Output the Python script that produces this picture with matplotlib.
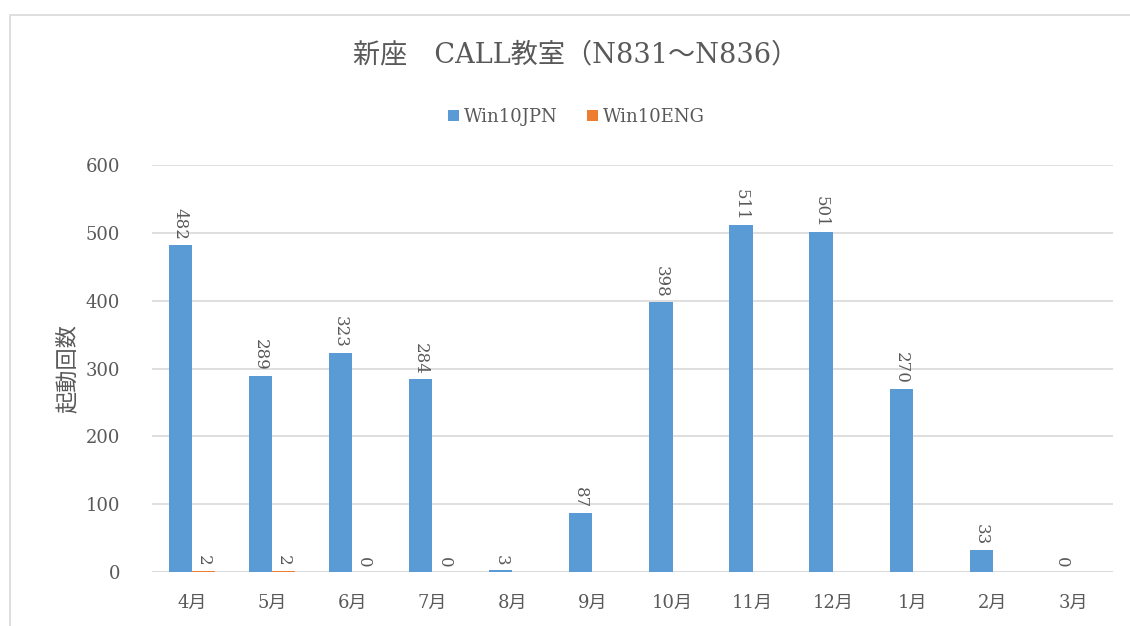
import matplotlib.pyplot as plt
import numpy as np
from matplotlib.patches import Rectangle

plt.rcParams['font.family'] = ['DejaVu Serif', 'Noto Sans CJK JP', 'DejaVu Sans']

months = ['4月', '5月', '6月', '7月', '8月', '9月', '10月', '11月', '12月', '1月', '2月', '3月']
jpn = [482, 289, 323, 284, 3, 87, 398, 511, 501, 270, 33, 0]
eng = [2, 2, 0, 0, None, None, None, None, None, None, None, None]
yticks = [0, 100, 200, 300, 400, 500, 600]

c_jpn = '#5b9bd5'
c_eng = '#ed7d31'
txt = '#595959'

fig = plt.figure(figsize=(11.3, 6.26), dpi=100)
ax = fig.add_axes([152 / 1130, 1 - 572 / 626, (1113 - 152) / 1130, (572 - 165) / 626])

# chart border
fig.patches.append(Rectangle((10 / 1130, -0.1), 1.2, 1 - 15 / 626 + 0.1,
                             transform=fig.transFigure, fill=False,
                             edgecolor='#d9d9d9', linewidth=1.2))

x = np.arange(len(months))
w = 0.29
eng_vals = [v if v is not None else 0 for v in eng]
b1 = ax.bar(x - w / 2, jpn, w, color=c_jpn, label='Win10JPN', zorder=3)
b2 = ax.bar(x + w / 2, eng_vals, w, color=c_eng, label='Win10ENG', zorder=3)

for xi, v in zip(x, jpn):
    ax.text(xi - w / 2, v + 7, str(v), rotation=-90, ha='center', va='bottom',
            fontsize=12, color=txt)
for xi, v in zip(x, eng):
    if v is None:
        continue
    ax.text(xi + w / 2, v + 7, str(v), rotation=-90, ha='center', va='bottom',
            fontsize=12, color=txt)

ax.set_xlim(-0.5, len(months) - 0.5)
ax.set_ylim(0, 600)
ax.set_yticks(yticks)
ax.set_xticks(x)
ax.set_xticklabels(months)
ax.tick_params(axis='both', length=0, labelsize=13, colors=txt)
ax.tick_params(axis='x', pad=16)
ax.tick_params(axis='y', pad=23)
ax.grid(axis='y', color='#d9d9d9', linewidth=1.2, zorder=0)
for s in ax.spines.values():
    s.set_visible(False)
ax.axhline(0, color='#d9d9d9', linewidth=1.2, zorder=2)

ax.set_ylabel('起動回数', fontsize=16, color=txt, labelpad=5)

fig.text(0.509, 1 - 55 / 626, '新座　CALL教室（N831～N836）', ha='center', va='center',
         fontsize=19.5, color=txt)
fig.legend(handles=[b1, b2], loc='center', bbox_to_anchor=(0.51, 1 - 117 / 626),
           ncol=2, frameon=False, fontsize=13, labelcolor=txt,
           handlelength=0.6, handleheight=0.6, handletextpad=0.3, columnspacing=1.6)

plt.savefig('out.png', dpi=100)
